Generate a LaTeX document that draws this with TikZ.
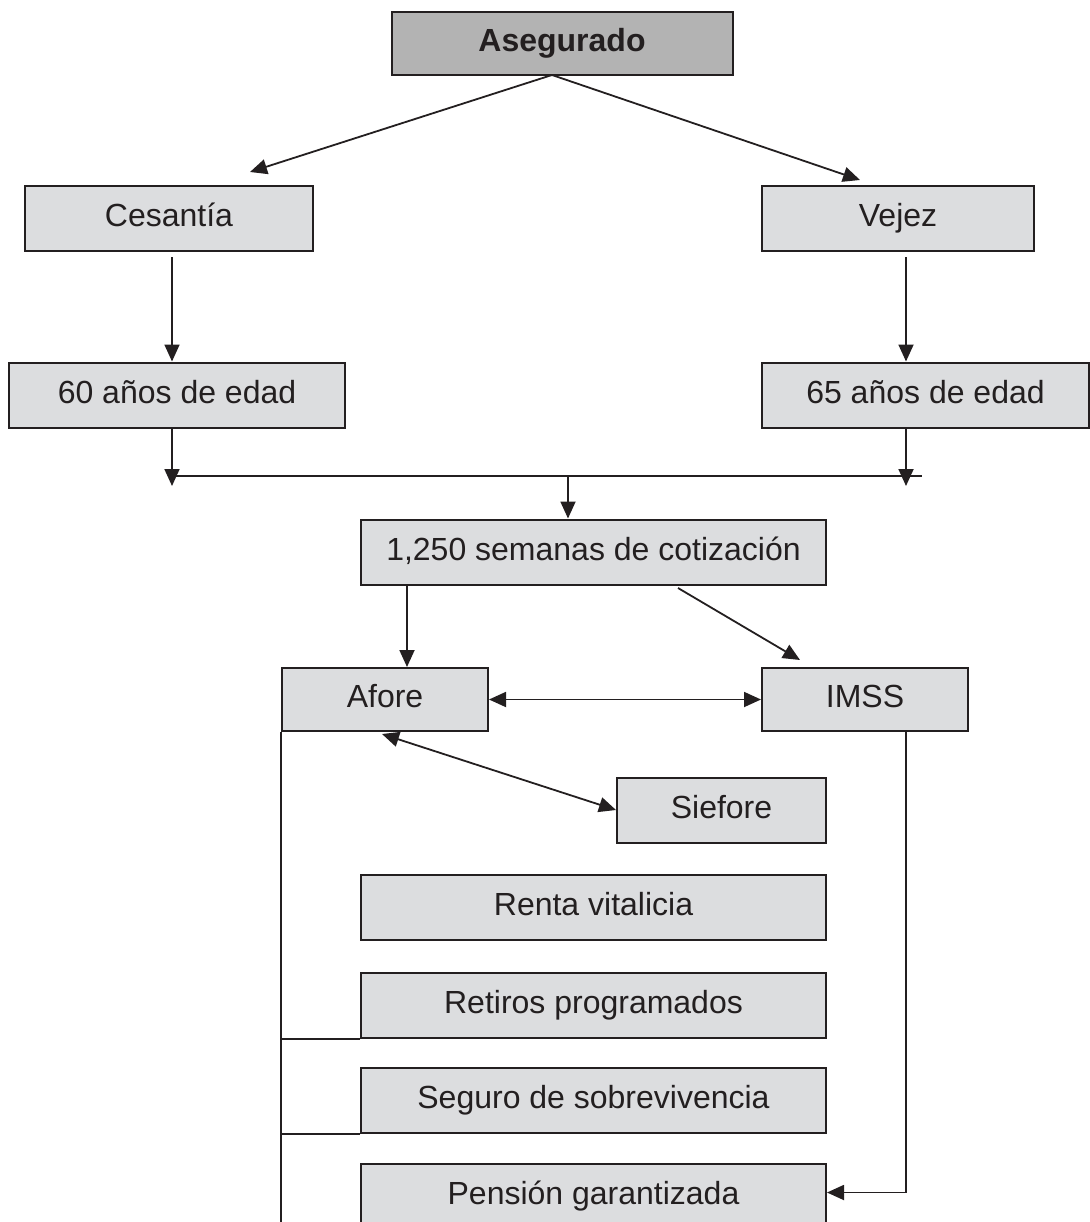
\documentclass[tikz,border=0pt]{standalone}
\usepackage{fontspec}
\setmainfont{Liberation Sans}
\usetikzlibrary{arrows.meta,positioning}

\definecolor{boxgray}{RGB}{220,221,223}
\definecolor{topgray}{RGB}{179,179,179}
\definecolor{ink}{RGB}{35,31,32}

\begin{document}
\begin{tikzpicture}[x=1pt,y=-1pt,->,>={Triangle[length=17pt,width=15pt]},line width=1.8pt,color=ink]
\tikzstyle{every node}=[font=\fontsize{32}{38}\selectfont]
\tikzstyle{caja}=[draw=ink,fill=boxgray,rectangle,minimum height=65pt,inner sep=0pt,line width=2pt,text height=23pt,text depth=7pt]
\useasboundingbox (0,0) rectangle (1089,1222);

\node[caja,fill=topgray,minimum width=341pt,minimum height=63pt,font=\fontsize{32}{38}\selectfont\bfseries] (aseg) at (562,44) {Asegurado};
\node[caja,minimum width=288pt] (ces) at (169,219) {Cesantía};
\node[caja,minimum width=272pt] (vej) at (898,219) {Vejez};
\node[caja,minimum width=336pt] (sesenta) at (177,395) {60 años de edad};
\node[caja,minimum width=327pt] (sesentaycinco) at (925.5,395) {65 años de edad};
\node[caja,minimum width=465pt] (semanas) at (593.5,552) {1,250 semanas de cotización};
\node[caja,minimum width=206pt,minimum height=63pt] (afore) at (385,699.5) {Afore};
\node[caja,minimum width=206pt,minimum height=63pt] (imss) at (865,699.5) {IMSS};
\node[caja,minimum width=209pt] (siefore) at (721.5,810) {Siefore};
\node[caja,minimum width=465pt] (renta) at (593.5,907.5) {Renta vitalicia};
\node[caja,minimum width=465pt,below=31pt of renta] (retiros) {Retiros programados};
\node[caja,minimum width=465pt,below=28pt of retiros] (seguro) {Seguro de sobrevivencia};
\node[caja,minimum width=465pt,below=29pt of seguro] (pension) {Pensión garantizada};

% puntos de paso
\coordinate (salida) at (552,75);
\coordinate (cesin) at (250,172);
\coordinate (vejin) at (860,180);
\coordinate (izq) at (172,486);
\coordinate (der) at (906,486);
\coordinate (hizq) at (172,476);
\coordinate (hder) at (922,476);
\coordinate (hmed) at (568,476);
\coordinate (semizq) at (407,585);
\coordinate (semder) at (678,588);
\coordinate (imssin) at (800,660);
\coordinate (aforein) at (382,734);
\coordinate (imssout) at (906,731);

\path (salida) edge (cesin)
               edge (vejin);
\draw[shorten <=5pt] (ces.south -| izq) -- (sesenta.north -| izq);
\draw[shorten <=5pt] (vej.south -| der) -- (sesentaycinco.north -| der);
\draw (sesenta.south -| izq) -- (izq);
\draw (sesentaycinco.south -| der) -- (der);
\draw[-] (hizq) -- (hder);
\draw (hmed) -- (semanas.north -| hmed);
\draw (semizq) -- (afore.north -| semizq);
\draw (semder) -- (imssin);
\draw[<->] (afore) -- (imss);
\draw[<->] (aforein) -- (siefore.west);
\draw[-] (afore.south west) -- (afore.south west |- pension.south);
\draw[-] (retiros.south west) -- (retiros.south west -| afore.west);
\draw[-] (seguro.south west) -- (seguro.south west -| afore.west);
\draw (imssout) |- ([yshift=4pt]pension.east);
\end{tikzpicture}
\end{document}
